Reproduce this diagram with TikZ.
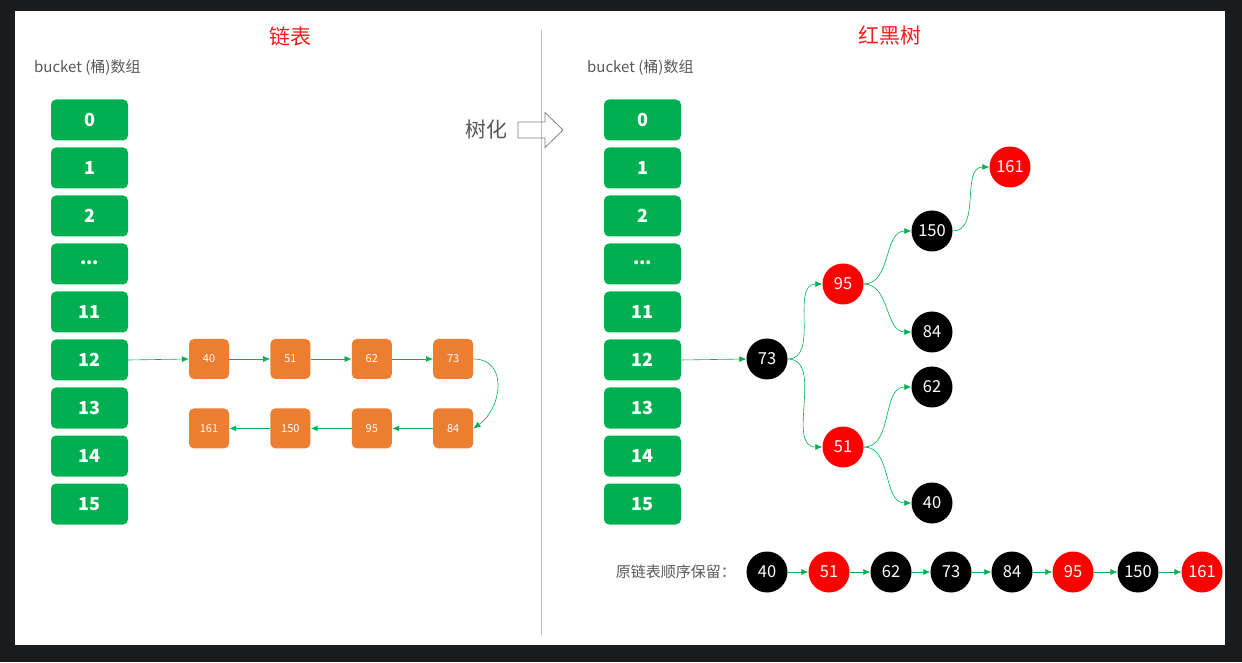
\documentclass[tikz,border=0pt]{standalone}
\usepackage{fontspec}
\setmainfont{Noto Sans CJK SC}
\usetikzlibrary{arrows.meta, positioning}
\definecolor{framegray}{RGB}{27, 28, 30}
\definecolor{bucketgreen}{RGB}{0, 176, 80}
\definecolor{listorange}{RGB}{237, 125, 49}
\definecolor{treered}{RGB}{255, 0, 0}
\definecolor{titlered}{RGB}{240, 30, 30}
\definecolor{textgray}{RGB}{89, 89, 89}
\definecolor{linegray}{RGB}{191, 191, 191}

\tikzset{
  bucketbox/.style={fill=bucketgreen, rounded corners=5pt, minimum width=77pt, minimum height=41pt, inner sep=0pt, text=white, font=\fontsize{18}{18}\selectfont\bfseries},
  listbox/.style={fill=listorange, rounded corners=5pt, minimum size=40pt, inner sep=0pt, text=white, font=\fontsize{11}{11}\selectfont},
  blacknode/.style={circle, fill=black, minimum size=41pt, inner sep=0pt, text=white, font=\fontsize{16.5}{16.5}\selectfont},
  rednode/.style={blacknode, fill=treered},
  link/.style={-{Latex[length=7pt, width=6pt]}, draw=bucketgreen, line width=0.6pt},
  backlink/.style={link, line width=1.4pt},
  caption/.style={text=textgray, font=\fontsize{15}{15}\selectfont},
}

\begin{document}
\begin{tikzpicture}[x=1pt, y=1pt]
  % Frame
  \useasboundingbox (0, 0) rectangle (1242, 662);
  \fill[framegray] (0, 0) rectangle (1242, 662);
  \fill[white] (15, 17) rectangle (1225, 651);
  \draw[linegray, line width=1pt] (541, 632) -- (541, 27);

  % Titles
  \node[text=titlered, font=\fontsize{21}{21}\selectfont] (titlelist) at (290, 626) {链表};
  \node[text=titlered, font=\fontsize{21}{21}\selectfont] (titletree) at (890, 626) {红黑树};
  \node[caption, anchor=west, inner sep=0pt] (bucketleft) at (34, 594) {bucket (桶)数组};
  \node[caption, anchor=west, inner sep=0pt] (bucketright) at (587, 594) {bucket (桶)数组};

  % Bucket arrays
  \foreach \lab/\nm [count=\i from 0] in {0/0, 1/1, 2/2, {\raisebox{3pt}{...}}/dots, 11/11, 12/12, 13/13, 14/14, 15/15} {
    \node[bucketbox] (L\nm) at (89.5, 542-48*\i) {\lab};
    \node[bucketbox] (R\nm) at (642.5, 542-48*\i) {\lab};
  }

  % Treeify arrow
  \node[text=textgray, font=\fontsize{21}{21}\selectfont] (treeify) at (486, 532) {树化};
  \draw[gray, line width=0.8pt] (518, 524) -- (545, 524) -- (545, 514.5) -- (563, 532)
    -- (545, 549.5) -- (545, 540) -- (518, 540) -- cycle;

  % Linked list
  \node[listbox] (l40) at (209, 303) {40};
  \node[listbox, right=41pt of l40] (l51) {51};
  \node[listbox, right=41pt of l51] (l62) {62};
  \node[listbox, right=41pt of l62] (l73) {73};
  \node[listbox, below=29pt of l73] (l84) {84};
  \node[listbox, left=41pt of l84] (l95) {95};
  \node[listbox, left=41pt of l95] (l150) {150};
  \node[listbox, left=41pt of l150] (l161) {161};

  \draw[link] (L12.east) -- (l40.west);
  \draw[link] (l40) -- (l51);
  \draw[link] (l51) -- (l62);
  \draw[link] (l62) -- (l73);
  \draw[link] (l73.east) to[out=0, in=35, looseness=1.3] (l84.east);
  \draw[backlink] (l84) -- (l95);
  \draw[backlink] (l95) -- (l150);
  \draw[backlink] (l150) -- (l161);

  % Red-black tree
  \node[blacknode] (t73) at (767, 303) {73};
  \node[rednode] (t95) at (843, 378) {95};
  \node[rednode] (t51) at (843, 215) {51};
  \node[blacknode] (t150) at (932, 431) {150};
  \node[blacknode] (t84) at (932, 330) {84};
  \node[blacknode] (t62) at (932, 275) {62};
  \node[blacknode] (t40) at (932, 159) {40};
  \node[rednode] (t161) at (1010, 495) {161};

  \draw[link] (R12.east) -- (t73.west);
  \draw[link] (t73.east) to[out=0, in=180] (t95.west);
  \draw[link] (t73.east) to[out=0, in=180] (t51.west);
  \draw[link] (t95.east) to[out=0, in=180] (t150.west);
  \draw[link] (t95.east) to[out=0, in=180] (t84.west);
  \draw[link] (t51.east) to[out=0, in=180] (t62.west);
  \draw[link] (t51.east) to[out=0, in=180] (t40.west);
  \draw[link] (t150.east) to[out=0, in=180] (t161.west);

  % Original order kept
  \node[caption, anchor=east, inner sep=0pt] (orderlabel) at (736, 90) {原链表顺序保留：};
  \node[blacknode] (o40) at (767, 90) {40};
  \node[rednode] (o51) at (829, 90) {51};
  \node[blacknode] (o62) at (891, 90) {62};
  \node[blacknode] (o73) at (951, 90) {73};
  \node[blacknode] (o84) at (1012, 90) {84};
  \node[rednode] (o95) at (1073, 90) {95};
  \node[blacknode] (o150) at (1138, 90) {150};
  \node[rednode] (o161) at (1202, 90) {161};

  \draw[link] (o40) -- (o51);
  \draw[link] (o51) -- (o62);
  \draw[link] (o62) -- (o73);
  \draw[link] (o73) -- (o84);
  \draw[link] (o84) -- (o95);
  \draw[link] (o95) -- (o150);
  \draw[link] (o150) -- (o161);
\end{tikzpicture}
\end{document}
